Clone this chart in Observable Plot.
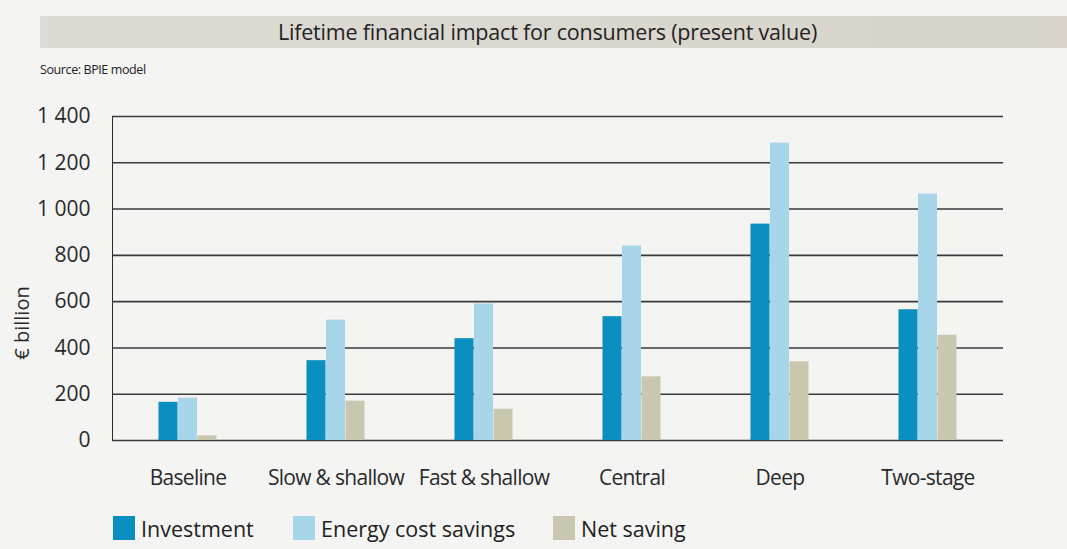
<!DOCTYPE html>
<html>
<head>
<meta charset="utf-8">
<script src="https://cdn.jsdelivr.net/npm/d3@7"></script>
<script src="https://cdn.jsdelivr.net/npm/@observablehq/plot@0.6"></script>
<style>
  html, body { margin: 0; padding: 0; background: #f4f4f3; }
  body { width: 1067px; height: 549px; overflow: hidden; font-family: "Open Sans", sans-serif; color: #2a2a2a; position: relative; }
  #titlebar { position: absolute; left: 40px; top: 16px; width: 1027px; height: 32px;
    background: linear-gradient(to right, #dddbd6, #d8d4ca); }
  #title { position: absolute; left: 0; right: 0; top: 1px; text-align: center; font-size: 21.5px; letter-spacing: -0.2px; color: #222; padding-right: 12px; }
  #source { position: absolute; left: 40px; top: 61px; font-size: 12.5px; letter-spacing: -0.4px; color: #222; }
  #ylabel { position: absolute; left: 21px; top: 323px; transform: translate(-50%, -50%) rotate(-90deg); font-size: 20px; white-space: nowrap; color: #2a2a2a; }
  #chart { position: absolute; left: 0; top: 80px; }
  #chart g[aria-label="x-axis tick label"] text { letter-spacing: -0.7px; }
  #legend { position: absolute; left: 0; top: 514px; width: 1067px; height: 35px; }
  .item { position: absolute; top: 0; display: flex; align-items: flex-end; font-size: 21.5px; color: #222; }
  .sw { width: 22px; height: 24px; margin-right: 6px; margin-bottom: 3px; }
</style>
</head>
<body>
<div id="titlebar"><div id="title">Lifetime financial impact for consumers (present value)</div></div>
<div id="source">Source: BPIE model</div>
<div id="ylabel">€ billion</div>
<div id="chart"></div>
<div id="legend"></div>
<script>
const scenarios = ["Baseline", "Slow & shallow", "Fast & shallow", "Central", "Deep", "Two-stage"];
const investment = [165, 345, 440, 535, 935, 565];
const energySavings = [183, 520, 590, 840, 1285, 1065];
const netSaving = [20, 170, 135, 275, 340, 455];
const yTicks = [0, 200, 400, 600, 800, 1000, 1200, 1400];
const seriesNames = ["Investment", "Energy cost savings", "Net saving"];
const seriesColors = ["#0b8ec0", "#a9d5ea", "#c9c8ae"];

const rows = (vals) => scenarios.map((s, i) => ({scenario: s, value: vals[i]}));

const chart = Plot.plot({
  width: 1067,
  height: 425,
  marginLeft: 112,
  marginRight: 64,
  marginTop: 36,
  marginBottom: 65,
  style: {background: "transparent", fontFamily: "'Open Sans', sans-serif", fontSize: "21px", color: "#2a2a2a"},
  x: {domain: scenarios, paddingInner: 0.87, paddingOuter: 0.435, align: 0.5, tickSize: 0, tickPadding: 30, label: null},
  y: {domain: [0, 1400], ticks: yTicks, tickSize: 0, tickPadding: 22,
      tickFormat: d => d3.format(",")(d).replace(",", " "),
      label: null, line: true},
  marks: [
    Plot.ruleY(yTicks, {stroke: "#3a3a3a", strokeWidth: 1.6}),
    Plot.barY(rows(investment), {x: "scenario", y: "value", fill: seriesColors[0], dx: -19.5}),
    Plot.barY(rows(energySavings), {x: "scenario", y: "value", fill: seriesColors[1]}),
    Plot.barY(rows(netSaving), {x: "scenario", y: "value", fill: seriesColors[2], dx: 19.5})
  ]
});
document.getElementById("chart").appendChild(chart);

const legendLeft = [113, 293, 553];
const legend = document.getElementById("legend");
seriesNames.forEach((name, i) => {
  const item = document.createElement("div");
  item.className = "item";
  item.style.left = legendLeft[i] + "px";
  const sw = document.createElement("div");
  sw.className = "sw";
  sw.style.background = seriesColors[i];
  const t = document.createElement("span");
  t.textContent = name;
  item.appendChild(sw);
  item.appendChild(t);
  legend.appendChild(item);
});
</script>
</body>
</html>
